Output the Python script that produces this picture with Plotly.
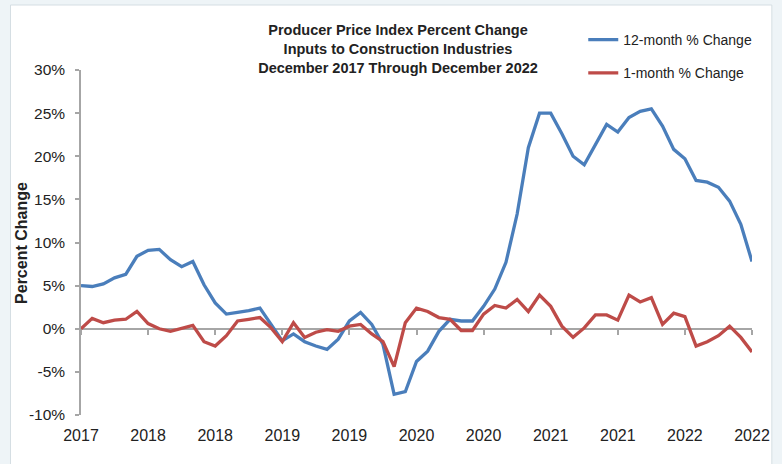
import plotly.graph_objects as go

# Months from Dec 2017 (index 0) through Dec 2022 (index 60)
months = list(range(61))

twelve_month = [5.0, 4.9, 5.2, 5.9, 6.3, 8.4, 9.1, 9.2, 8.0, 7.2,
                7.8, 5.1, 3.0, 1.7, 1.9, 2.1, 2.4, 0.5, -1.4, -0.6,
                -1.5, -2.0, -2.4, -1.2, 0.9, 1.9, 0.5, -1.8, -7.6, -7.3,
                -3.8, -2.6, -0.3, 1.1, 0.9, 0.9, 2.6, 4.6, 7.7, 13.3,
                21.0, 25.0, 25.0, 22.6, 20.0, 19.0, 21.4, 23.7, 22.8, 24.5,
                25.2, 25.5, 23.5, 20.8, 19.7, 17.2, 17.0, 16.4, 14.8, 12.1,
                7.8]

one_month = [0.0, 1.2, 0.7, 1.0, 1.1, 2.0, 0.6, 0.0, -0.3, 0.1,
             0.4, -1.5, -2.0, -0.8, 0.9, 1.1, 1.3, 0.1, -1.5, 0.7,
             -1.0, -0.4, -0.1, -0.3, 0.3, 0.5, -0.6, -1.5, -4.4, 0.7,
             2.4, 2.0, 1.3, 1.1, -0.2, -0.2, 1.7, 2.7, 2.4, 3.4,
             2.0, 3.9, 2.6, 0.3, -1.0, 0.1, 1.6, 1.6, 1.0, 3.9,
             3.1, 3.6, 0.5, 1.8, 1.4, -2.0, -1.5, -0.8, 0.3, -1.0,
             -2.7]

x_tick_positions = [0, 6, 12, 18, 24, 30, 36, 42, 48, 54, 60]
x_tick_labels = ["2017", "2018", "2018", "2019", "2019", "2020",
                 "2020", "2021", "2021", "2022", "2022"]
y_tick_values = [-10, -5, 0, 5, 10, 15, 20, 25, 30]
y_tick_labels = [f"{v}%" for v in y_tick_values]

series_names = ["12-month % Change", "1-month % Change"]

BLUE = "#4A7EBB"
RED = "#BE4B48"
GRAY = "#A6A6A6"
TXT = "#222222"
FONT = "Liberation Sans, Arial, sans-serif"

fig = go.Figure()
fig.add_trace(go.Scatter(x=months, y=twelve_month, mode="lines", name=series_names[0],
                         line=dict(color=BLUE, width=3.3), legendgroup="a",
                         xaxis="x", yaxis="y"))
fig.add_trace(go.Scatter(x=months, y=one_month, mode="lines", name=series_names[1],
                         line=dict(color=RED, width=3.3), legendgroup="b",
                         xaxis="x2", yaxis="y"))

L, R, T, B = 81, 25, 70, 49
W, H = 782, 464
pw, ph = W - L - R, H - T - B

fig.update_layout(
    width=W, height=H,
    margin=dict(l=L, r=R, t=T, b=B),
    paper_bgcolor="#EEF4F7",
    plot_bgcolor="rgba(0,0,0,0)",
    font=dict(family=FONT, color=TXT),
    showlegend=True,
    legend=dict(x=(587 - L) / pw, xanchor="left", y=(H - B - 24) / ph, yanchor="top",
                bgcolor="rgba(0,0,0,0)", font=dict(size=14, color=TXT),
                tracegroupgap=12, itemwidth=30),
    title=dict(text="Producer Price Index Percent Change<br>Inputs to Construction Industries"
                    "<br>December 2017 Through December 2022",
               x=398 / W, xanchor="center", xref="container",
               y=1 - 35 / H, yanchor="top", yref="container",
               font=dict(size=14.5, color=TXT, family=FONT, weight="bold")),
    xaxis=dict(range=[0, 60], tickvals=x_tick_positions, ticktext=x_tick_labels,
               showline=False, ticks="", showgrid=False, zeroline=False,
               tickfont=dict(size=16, color=TXT), ticklabelstandoff=9,
               fixedrange=True),
    xaxis2=dict(range=[0, 60], overlaying="x", anchor="free", position=0.25,
                tickvals=x_tick_positions, showticklabels=False,
                showline=True, linecolor=GRAY, linewidth=1.5,
                ticks="outside", ticklen=5, tickcolor=GRAY, tickwidth=1.5,
                showgrid=False, zeroline=False, layer="below traces"),
    yaxis=dict(range=[-10, 30], tickvals=y_tick_values, ticktext=y_tick_labels,
               showline=True, linecolor=GRAY, linewidth=1.5,
               ticks="outside", ticklen=4, tickcolor=GRAY, tickwidth=1.5,
               showgrid=False, zeroline=False,
               tickfont=dict(size=15.5, color=TXT), ticklabelstandoff=7),
    annotations=[dict(text="Percent Change", textangle=-90, showarrow=False,
                      xref="paper", yref="paper", x=(21 - L) / pw, y=0.5,
                      xanchor="center", yanchor="middle",
                      font=dict(size=16, color=TXT, family=FONT, weight="bold"))],
    shapes=[dict(type="rect", xref="paper", yref="paper", layer="below",
                 x0=(10 - L) / pw, x1=(777 - L) / pw,
                 y0=(H - B - 480) / ph, y1=(H - B - 5) / ph,
                 fillcolor="white", line=dict(color="#D5DEE3", width=1))],
)

fig.write_html("out.html")
